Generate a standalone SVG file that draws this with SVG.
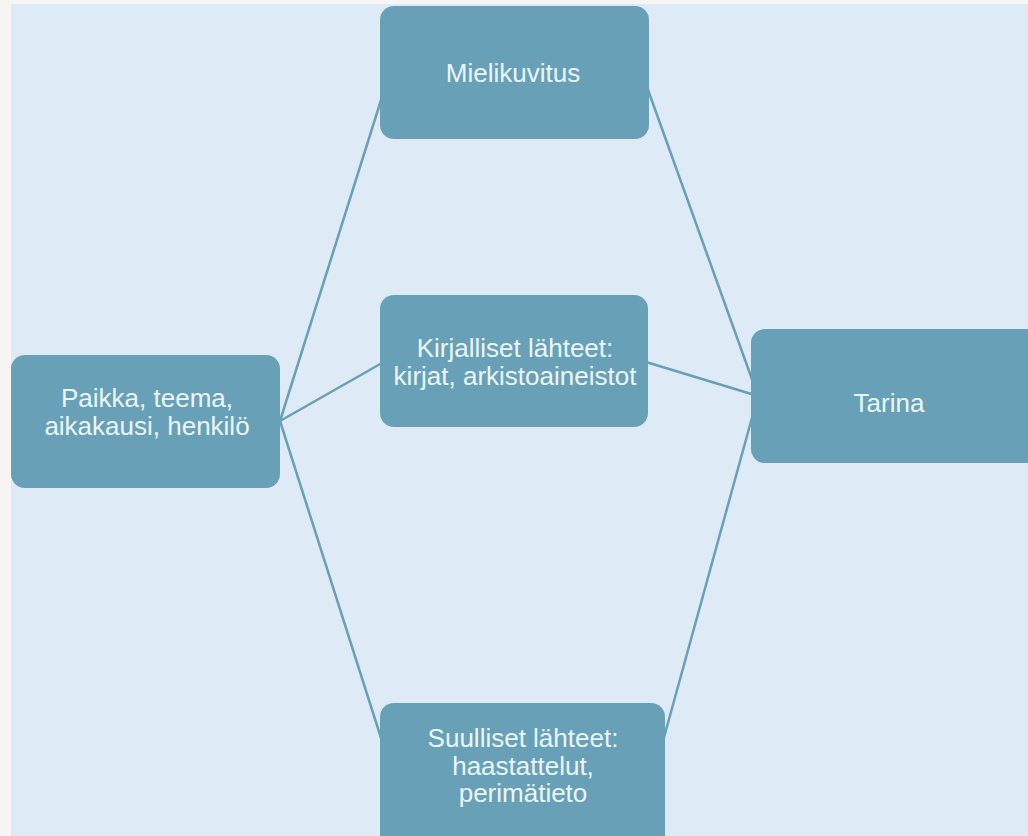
<svg xmlns="http://www.w3.org/2000/svg" width="1028" height="836" viewBox="0 0 1028 836">
  <style>
    .node { fill: #68a1b7; }
    .label { font-family: "Liberation Sans", Arial, sans-serif; font-size: 26px; fill: #eaf6fa; text-anchor: middle; }
    .conn { stroke: #6a9fb5; stroke-width: 2.5; fill: none; }
  </style>
  <rect x="0" y="0" width="1028" height="836" fill="#f7f5f3"/>
  <rect x="11" y="4" width="1017" height="832" fill="#deebf6"/>

  <g id="connectors">
    <line class="conn" x1="280" y1="421" x2="382" y2="97"/>
    <line class="conn" x1="280" y1="421" x2="382" y2="363"/>
    <line class="conn" x1="280" y1="421" x2="382" y2="741"/>
    <line class="conn" x1="647" y1="87" x2="758" y2="396"/>
    <line class="conn" x1="646" y1="362" x2="758" y2="396"/>
    <line class="conn" x1="663" y1="741" x2="758" y2="396"/>
  </g>

  <g id="node-mielikuvitus">
    <rect class="node" x="380" y="6" width="269" height="133" rx="14"/>
    <text class="label" x="513" y="82">Mielikuvitus</text>
  </g>

  <g id="node-paikka">
    <rect class="node" x="11" y="355" width="269" height="133" rx="14"/>
    <text class="label" x="147" y="407">Paikka, teema,</text>
    <text class="label" x="147" y="435">aikakausi, henkilö</text>
  </g>

  <g id="node-kirjalliset">
    <rect class="node" x="380" y="295" width="268" height="132" rx="14"/>
    <text class="label" x="515" y="357">Kirjalliset lähteet:</text>
    <text class="label" x="515" y="385">kirjat, arkistoaineistot</text>
  </g>

  <g id="node-tarina">
    <rect class="node" x="751" y="329" width="300" height="134" rx="14"/>
    <text class="label" x="889" y="412">Tarina</text>
  </g>

  <g id="node-suulliset">
    <rect class="node" x="380" y="703" width="285" height="150" rx="14"/>
    <text class="label" x="523" y="747">Suulliset lähteet:</text>
    <text class="label" x="523" y="775">haastattelut,</text>
    <text class="label" x="523" y="802">perimätieto</text>
  </g>
</svg>
